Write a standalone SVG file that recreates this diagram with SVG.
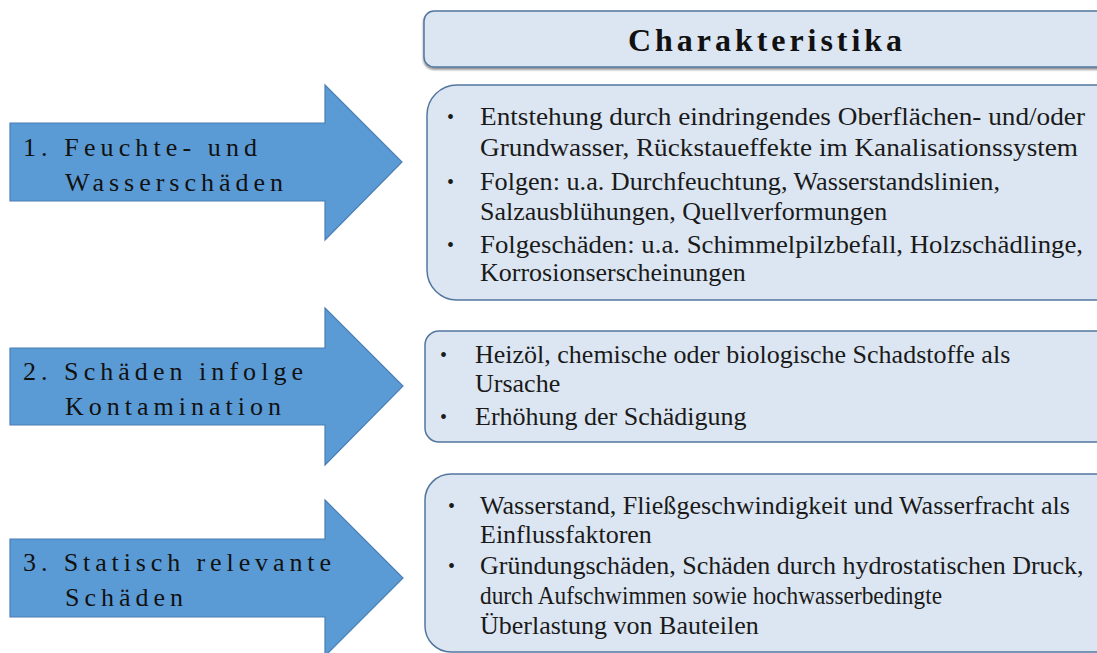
<svg xmlns="http://www.w3.org/2000/svg" width="1097" height="653" viewBox="0 0 1097 653">
  <defs>
    <filter id="shadow" x="-5%" y="-20%" width="110%" height="150%">
      <feDropShadow dx="0" dy="2" stdDeviation="1.2" flood-color="#000" flood-opacity="0.45"/>
    </filter>
  </defs>
  <style>
    .arrow { fill: #5b9bd5; stroke: #4a7fb5; stroke-width: 1.2; }
    .box { fill: #dce6f2; stroke: #53769e; stroke-width: 1.5; }
    text { font-family: 'Liberation Serif', 'Times New Roman', serif; }
    .lbl { font-size: 26px; fill: #111; }
    .txt { font-size: 26px; fill: #1a1a1a; }
    .bul { font-size: 20px; fill: #1a1a1a; }
    .head { font-size: 32px; font-weight: bold; fill: #111; }
  </style>
  <rect width="1097" height="653" fill="#ffffff"/>

  <!-- header -->
  <g id="header">
    <rect class="box" x="424" y="11" width="700" height="56" rx="10" filter="url(#shadow)"/>
    <text class="head" x="628" y="51" textLength="274" lengthAdjust="spacing">Charakteristika</text>
  </g>

  <!-- arrows -->
  <g id="connectors">
    <g id="arrow1">
      <polygon class="arrow" points="10,123 325,123 325,85 402,162 325,240 325,201 10,201"/>
      <text class="lbl" x="23" y="156" textLength="234" lengthAdjust="spacing">1. Feuchte- und</text>
      <text class="lbl" x="65" y="191" textLength="218" lengthAdjust="spacing">Wasserschäden</text>
    </g>
    <g id="arrow2">
      <polygon class="arrow" points="10,348 325,348 325,308 403,386 325,465 325,425 10,425"/>
      <text class="lbl" x="23" y="380" textLength="280" lengthAdjust="spacing">2. Schäden infolge</text>
      <text class="lbl" x="65" y="415" textLength="216" lengthAdjust="spacing">Kontamination</text>
    </g>
    <g id="arrow3">
      <polygon class="arrow" points="10,539 325,539 325,500 403,578 325,656 325,617 10,617"/>
      <text class="lbl" x="23" y="571" textLength="308" lengthAdjust="spacing">3. Statisch relevante</text>
      <text class="lbl" x="65" y="606" textLength="118" lengthAdjust="spacing">Schäden</text>
    </g>
  </g>

  <!-- box 1 -->
  <g id="box1">
    <rect class="box" x="427" y="85" width="700" height="215" rx="30"/>
    <text class="bul" x="447" y="124">•</text>
    <text class="txt" x="480" y="125" textLength="605" lengthAdjust="spacingAndGlyphs">Entstehung durch eindringendes Oberflächen- und/oder</text>
    <text class="txt" x="480" y="156" textLength="598" lengthAdjust="spacingAndGlyphs">Grundwasser, Rückstaueffekte im Kanalisationssystem</text>
    <text class="bul" x="447" y="189">•</text>
    <text class="txt" x="480" y="190" textLength="520" lengthAdjust="spacingAndGlyphs">Folgen: u.a. Durchfeuchtung, Wasserstandslinien,</text>
    <text class="txt" x="480" y="220">Salzausblühungen, Quellverformungen</text>
    <text class="bul" x="447" y="252">•</text>
    <text class="txt" x="480" y="253" textLength="603" lengthAdjust="spacingAndGlyphs">Folgeschäden: u.a. Schimmelpilzbefall, Holzschädlinge,</text>
    <text class="txt" x="480" y="281">Korrosionserscheinungen</text>
  </g>

  <!-- box 2 -->
  <g id="box2">
    <rect class="box" x="425" y="331" width="700" height="111" rx="14"/>
    <text class="bul" x="440" y="362">•</text>
    <text class="txt" x="475" y="363">Heizöl, chemische oder biologische Schadstoffe als</text>
    <text class="txt" x="475" y="392">Ursache</text>
    <text class="bul" x="440" y="424">•</text>
    <text class="txt" x="475" y="425">Erhöhung der Schädigung</text>
  </g>

  <!-- box 3 -->
  <g id="box3">
    <rect class="box" x="425" y="474" width="700" height="178" rx="26"/>
    <text class="bul" x="448" y="513">•</text>
    <text class="txt" x="480" y="514" textLength="590" lengthAdjust="spacingAndGlyphs">Wasserstand, Fließgeschwindigkeit und Wasserfracht als</text>
    <text class="txt" x="480" y="543">Einflussfaktoren</text>
    <text class="bul" x="448" y="573">•</text>
    <text class="txt" x="480" y="574">Gründungschäden, Schäden durch hydrostatischen Druck,</text>
    <text class="txt" x="480" y="604" textLength="462" lengthAdjust="spacingAndGlyphs">durch Aufschwimmen sowie hochwasserbedingte</text>
    <text class="txt" x="480" y="634">Überlastung von Bauteilen</text>
  </g>
</svg>
